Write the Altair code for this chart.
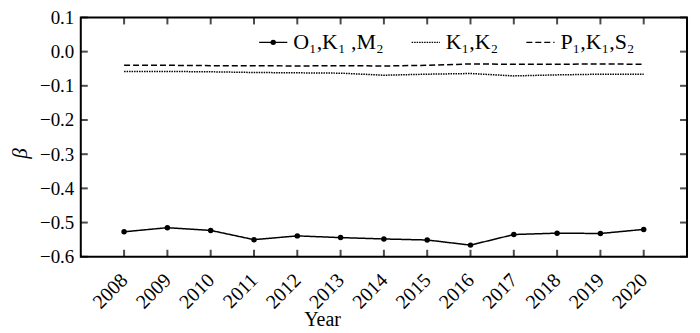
import altair as alt
import pandas as pd

years = list(range(2008, 2021))
series_names = ["O₁,K₁ ,M₂", "K₁,K₂", "P₁,K₁,S₂"]
o1k1m2 = [-0.527, -0.515, -0.523, -0.550, -0.539, -0.544, -0.548, -0.551, -0.566, -0.535, -0.531, -0.532, -0.520]
k1k2 = [-0.058, -0.058, -0.059, -0.061, -0.062, -0.063, -0.069, -0.066, -0.064, -0.071, -0.068, -0.066, -0.066]
p1k1s2 = [-0.040, -0.040, -0.041, -0.041, -0.042, -0.041, -0.042, -0.040, -0.036, -0.037, -0.037, -0.036, -0.037]
y_ticks = [-0.6, -0.5, -0.4, -0.3, -0.2, -0.1, 0.0, 0.1]
x_min, x_max = 2007, 2021
y_min, y_max = -0.6, 0.1

rows = []
for name, vals in zip(series_names, [o1k1m2, k1k2, p1k1s2]):
    for yr, v in zip(years, vals):
        rows.append({"year": yr, "series": name, "value": v})
df = pd.DataFrame(rows)
xt_df = pd.DataFrame({"year": years})
yt_df = pd.DataFrame({"value": y_ticks})

FONT = "Liberation Serif"
xscale = alt.Scale(domain=[x_min, x_max], nice=False, zero=False)
yscale = alt.Scale(domain=[y_min, y_max], nice=False, zero=False)

base = alt.Chart(df)

lines = base.mark_line(color="black", strokeWidth=1.5).encode(
    x=alt.X("year:Q", scale=xscale,
            axis=alt.Axis(orient="bottom", ticks=False, domain=False, grid=False,
                          values=years, format="d",
                          labelAngle=-45, labelAlign="right", labelBaseline="top",
                          labelFontSize=20, labelFont=FONT, labelColor="black",
                          labelPadding=13, labelOffset=-7,
                          title="Year", titleFont=FONT, titleFontSize=20,
                          titleFontWeight="normal", titleColor="black",
                          titleX=242, titleY=63, titleAlign="center",
                          titleBaseline="middle")),
    y=alt.Y("value:Q", scale=yscale,
            axis=alt.Axis(orient="left", ticks=False, domain=False, grid=False,
                          values=y_ticks,
                          labelExpr="replace(format(datum.value, '.1f'), '-', '−')",
                          labelFontSize=19, labelFont=FONT, labelColor="black",
                          labelPadding=7,
                          title="β", titleFont=FONT, titleFontSize=21,
                          titleFontStyle="italic", titleFontWeight="normal",
                          titleColor="black", titleX=-60, titleY=136,
                          titleAlign="center", titleBaseline="middle",
                          titleAngle=-90)),
    strokeDash=alt.StrokeDash(
        "series:N",
        scale=alt.Scale(domain=series_names, range=[[1, 0], [1.5, 1], [6, 3]]),
        sort=series_names,
        legend=alt.Legend(orient="none", legendX=178, legendY=10, direction="horizontal",
                          title=None, symbolType="stroke", symbolSize=800,
                          symbolStrokeWidth=1.5, symbolStrokeColor="black",
                          labelFont=FONT, labelFontSize=22, labelColor="black",
                          labelOffset=5, columnPadding=24, padding=0)),
)

points = base.transform_filter(alt.datum.series == series_names[0]).mark_point(
    filled=True, color="black", size=30, opacity=1
).encode(
    x=alt.X("year:Q", scale=xscale, axis=None),
    y=alt.Y("value:Q", scale=yscale, axis=None),
    shape=alt.Shape(
        "series:N",
        scale=alt.Scale(domain=[series_names[0]], range=["circle"]),
        legend=alt.Legend(orient="none", legendX=190, legendY=22, title=None,
                          symbolSize=30, symbolFillColor="black",
                          symbolStrokeColor="black", symbolStrokeWidth=0,
                          labelExpr="''", labelFontSize=1, padding=0,
                          symbolOffset=0)),
)

# inward axis ticks (bottom/top at each year, left/right at each y tick)
tick_style = dict(color="black", size=7, thickness=2)
bottom_ticks = alt.Chart(xt_df).mark_tick(orient="vertical", yOffset=-3.5, **tick_style).encode(
    x=alt.X("year:Q", scale=xscale, axis=None),
    y=alt.YDatum(y_min, type="quantitative", scale=yscale, axis=None),
)
top_ticks = alt.Chart(xt_df).mark_tick(orient="vertical", yOffset=3.5, **tick_style).encode(
    x=alt.X("year:Q", scale=xscale, axis=None),
    y=alt.YDatum(y_max, type="quantitative", scale=yscale, axis=None),
)
left_ticks = alt.Chart(yt_df).mark_tick(orient="horizontal", xOffset=3.5, **tick_style).encode(
    y=alt.Y("value:Q", scale=yscale, axis=None),
    x=alt.XDatum(x_min, type="quantitative", scale=xscale, axis=None),
)
right_ticks = alt.Chart(yt_df).mark_tick(orient="horizontal", xOffset=-3.5, **tick_style).encode(
    y=alt.Y("value:Q", scale=yscale, axis=None),
    x=alt.XDatum(x_max, type="quantitative", scale=xscale, axis=None),
)

chart = alt.layer(lines, points, bottom_ticks, top_ticks, left_ticks, right_ticks).resolve_axis(
    x="independent", y="independent"
).properties(
    width=608, height=240,
    autosize=alt.AutoSizeParams(type="none"),
    padding={"left": 73, "top": 9, "right": 5, "bottom": 75},
).configure_view(stroke="black", strokeWidth=2)

chart.save("out.html", embed_options={"renderer": "svg", "actions": False})
